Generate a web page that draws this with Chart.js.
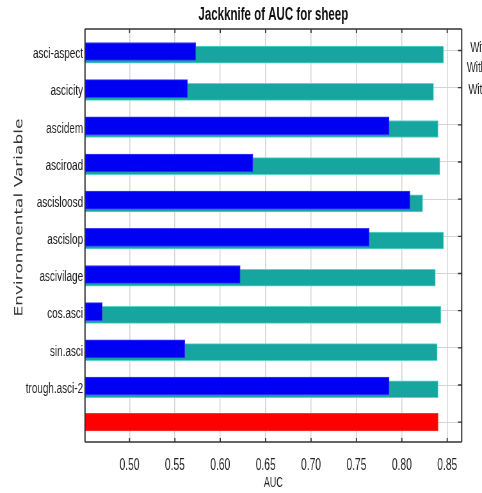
<!DOCTYPE html>
<html>
<head>
<meta charset="utf-8">
<script src="https://cdn.jsdelivr.net/npm/chart.js@4.4.1/dist/chart.umd.min.js"></script>
<style>
html, body { margin: 0; padding: 0; overflow: hidden; background: #fff; width: 482px; height: 493px; }
#wrap { position: absolute; left: 0; top: 0; width: 753px; height: 493px; transform: scaleX(0.6401); transform-origin: 0 0; }
canvas { display: block; }
</style>
</head>
<body>
<div id="wrap"><canvas id="c" width="753" height="493" style="width:753px;height:493px"></canvas></div>
<script>
// ---- data ----
const categories = ['asci-aspect','ascicity','ascidem','asciroad','ascisloosd','ascislop','ascivilage','cos.asci','sin.asci','trough.asci-2',''];
const withOnlyVariable = [0.573, 0.564, 0.786, 0.636, 0.809, 0.764, 0.622, 0.470, 0.561, 0.786, null];
const withoutVariable  = [0.846, 0.835, 0.840, 0.842, 0.823, 0.846, 0.837, 0.843, 0.839, 0.840, null];
const withAllVariables = [null, null, null, null, null, null, null, null, null, null, 0.840];
const xTickValues = [0.50, 0.55, 0.60, 0.65, 0.70, 0.75, 0.80, 0.85];
const legendLabels = ['Without variable', 'With only variable', 'With all variables'];
const chartTitle = 'Jackknife of AUC for sheep';
const xTitle = 'AUC';
const yTitle = 'Environmental Variable';

const FONT = "'Liberation Sans', Arial, sans-serif";
Chart.defaults.font.family = FONT;

const toPts = arr => arr.map((v, i) => ({ x: v, y: i }));

const Y_MIN = -0.578, Y_MAX = 10.533;

const decor = {
  id: 'decor',
  afterDraw(chart) {
    const ctx = chart.ctx;
    const a = chart.chartArea;
    const xs = chart.scales.x, ys = chart.scales.y;
    ctx.save();
    ctx.strokeStyle = '#333';
    ctx.lineWidth = 1.3;
    ctx.beginPath();
    ctx.moveTo(a.left, a.top); ctx.lineTo(a.right, a.top);
    ctx.moveTo(a.left, a.bottom); ctx.lineTo(a.right, a.bottom);
    ctx.stroke();
    ctx.lineWidth = 2;
    ctx.beginPath();
    ctx.moveTo(a.left, a.top); ctx.lineTo(a.left, a.bottom);
    ctx.moveTo(a.right, a.top); ctx.lineTo(a.right, a.bottom);
    ctx.stroke();
    ctx.lineWidth = 1.8;
    ctx.beginPath();
    xTickValues.forEach(v => {
      const px = xs.getPixelForValue(v);
      ctx.moveTo(px, a.top); ctx.lineTo(px, a.top + 4);
      ctx.moveTo(px, a.bottom); ctx.lineTo(px, a.bottom - 4);
    });
    ctx.stroke();
    ctx.lineWidth = 1.3;
    ctx.beginPath();
    categories.forEach((c, i) => {
      const py = ys.getPixelForValue(i);
      ctx.moveTo(a.right, py); ctx.lineTo(a.right - 6, py);
    });
    ctx.stroke();
    ctx.fillStyle = '#333';
    ctx.font = "17px 'DejaVu Sans', Verdana, sans-serif";
    ctx.textAlign = 'center';
    ctx.textBaseline = 'middle';
    ctx.translate(31, 217.5);
    ctx.rotate(-Math.PI / 2);
    ctx.fillText(yTitle, 0, 0);
    ctx.restore();
    ctx.save();
    ctx.fillStyle = '#222';
    ctx.font = '15px ' + FONT;
    ctx.textAlign = 'center';
    ctx.textBaseline = 'middle';
    const ly = [47.5, 68.3, 90];
    legendLabels.forEach((t, i) => ctx.fillText(t, 788.4, ly[i]));
    ctx.restore();
  }
};

new Chart(document.getElementById('c'), {
  type: 'bar',
  data: {
    datasets: [
      {
        label: legendLabels[0],
        data: toPts(withoutVariable),
        yAxisID: 'yt',
        backgroundColor: '#16a59f',
        borderColor: '#5cd3d0',
        borderWidth: 1,
        barThickness: 17,
        grouped: false,
        order: 3
      },
      {
        label: legendLabels[1],
        data: toPts(withOnlyVariable),
        yAxisID: 'yb',
        backgroundColor: '#0000f2',
        borderColor: '#3a3af5',
        borderWidth: 1,
        barThickness: 18,
        grouped: false,
        order: 2
      },
      {
        label: legendLabels[2],
        data: toPts(withAllVariables),
        yAxisID: 'y',
        backgroundColor: '#ff0000',
        borderColor: '#ff3030',
        borderWidth: 1,
        barThickness: 17.7,
        grouped: false,
        order: 1
      }
    ]
  },
  options: {
    indexAxis: 'y',
    responsive: false,
    animation: false,
    devicePixelRatio: 1,
    layout: { padding: { left: 0, right: 31.7, top: 0, bottom: 0 } },
    plugins: {
      legend: { display: false },
      tooltip: { enabled: false },
      title: {
        display: true,
        text: chartTitle,
        fullSize: false,
        color: '#111',
        font: { size: 18, weight: 'bold', family: FONT },
        padding: { top: 3.85, bottom: 3.55 }
      }
    },
    scales: {
      x: {
        type: 'linear',
        position: 'bottom',
        min: 0.451,
        max: 0.866,
        afterBuildTicks: ax => { ax.ticks = xTickValues.map(v => ({ value: v })); },
        afterFit: ax => { ax.height = 51; },
        ticks: {
          callback: v => Number(v).toFixed(2),
          font: { size: 16 },
          color: '#222',
          padding: 14,
          maxRotation: 0,
          autoSkip: false
        },
        grid: { color: '#d4d4d4', lineWidth: 1.5, drawTicks: false },
        border: { display: false },
        title: { display: true, text: xTitle, font: { size: 14 }, color: '#222', padding: { top: 0, bottom: 1.3 } }
      },
      y: {
        type: 'linear',
        position: 'left',
        reverse: true,
        offset: false,
        min: Y_MIN,
        max: Y_MAX,
        afterBuildTicks: ax => { ax.ticks = categories.map((c, i) => ({ value: i })); },
        afterFit: ax => { ax.width = 132.8; },
        ticks: {
          callback: v => categories[v],
          font: { size: 15.5 },
          color: '#222',
          padding: 3,
          labelOffset: 3.5,
          autoSkip: false
        },
        grid: { color: '#d4d4d4', lineWidth: 1, drawTicks: false, offset: false },
        border: { display: false }
      },
      yb: {
        type: 'linear', display: false, reverse: true, offset: false,
        grid: { offset: false },
        min: Y_MIN - 0.027, max: Y_MAX - 0.027
      },
      yt: {
        type: 'linear', display: false, reverse: true, offset: false,
        grid: { offset: false },
        min: Y_MIN - 0.113, max: Y_MAX - 0.113
      }
    }
  },
  plugins: [decor]
});
</script>
</body>
</html>
